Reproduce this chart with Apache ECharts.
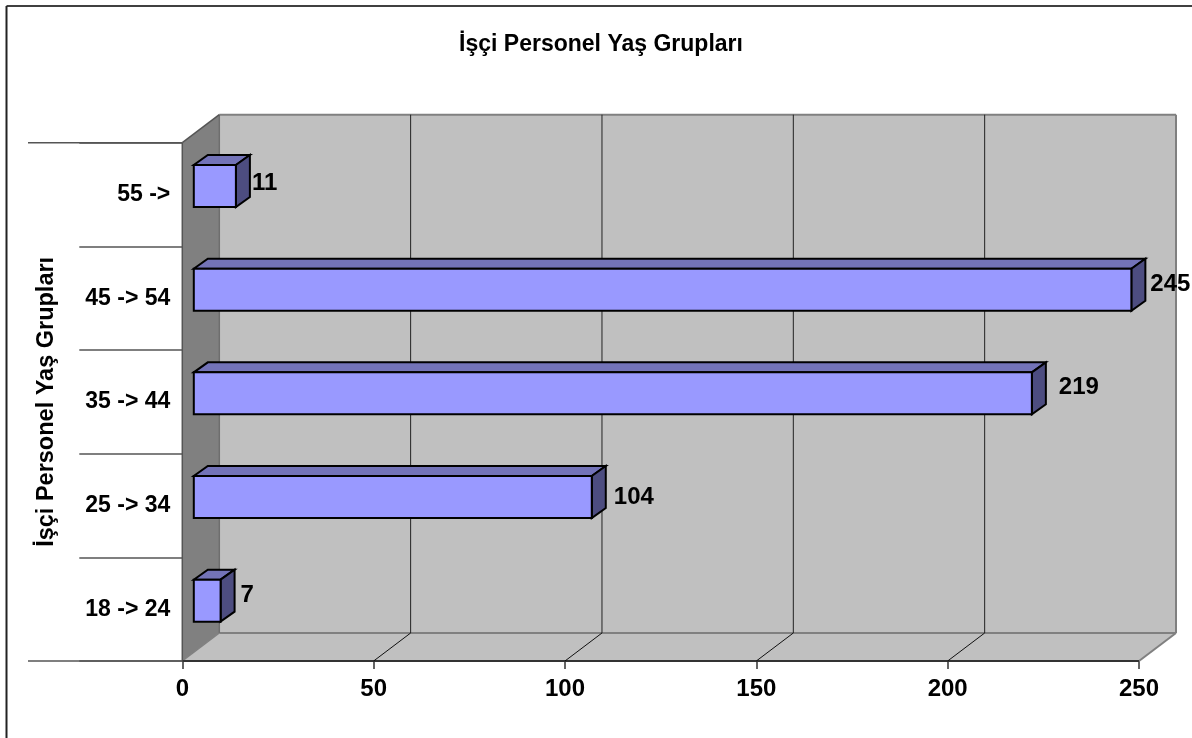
<!DOCTYPE html>
<html><head><meta charset="utf-8">
<style>html,body{margin:0;padding:0;background:#fff}#c{width:1192px;height:738px}</style>
<script src="https://cdn.jsdelivr.net/npm/echarts@6/dist/echarts.min.js"></script>
</head><body><div id="c"></div>
<script>
const categories = ['18 -> 24','25 -> 34','35 -> 44','45 -> 54','55 ->'];
const values = [7,104,219,245,11];
const xTicks = [0,50,100,150,200,250];
const titleText = 'İşçi Personel Yaş Grupları';

// drawing constants (not data)
const WALL = {dx:37, dy:-28};
const BAR = {x:11.5, y:-8.5, dx:14, dy:-10, h:42};
const LABEL_NUDGE = [[20,-5.5],[22,0],[27,-6],[19,-5],[16,-3]];
const font = 'Liberation Sans';
const chart = echarts.init(document.getElementById('c'), null, {renderer:'canvas'});

function poly(pts, fill, stroke, w){
  return {type:'polygon', shape:{points:pts}, style:{fill:fill, stroke:stroke||null, lineWidth:w||0, lineJoin:'miter'}};
}
function line(a,b,stroke,w){
  return {type:'line', shape:{x1:a[0],y1:a[1],x2:b[0],y2:b[1]}, style:{stroke:stroke, lineWidth:w}};
}
function renderFrame(params, api){
  const band = api.size([0,1])[1];
  const oy = api.coord([0,0])[1]+band/2, ty = api.coord([0,4])[1]-band/2;
  const x0 = api.coord([0,0])[0], x1 = api.coord([250,0])[0];
  const o = [x0,oy], t = [x0,ty], r = [x1,oy];
  const d = [WALL.dx, WALL.dy];
  const sh = p => [p[0]+d[0], p[1]+d[1]];
  const tr = [x1+d[0], ty+d[1]];
  const children = [
    poly([sh(t),tr,sh(r),sh(o)], '#c0c0c0'),
    poly([t,sh(t),sh(o),o], '#808080'),
    poly([o,r,sh(r),sh(o)], '#c0c0c0'),
    line(sh(t),tr,'#808080',2),
    line(tr,sh(r),'#808080',2),
    line(sh(r),sh(o),'#808080',2),
    line(sh(t),sh(o),'#6e6e6e',1.5),
    line(sh(r),r,'#808080',2),
    line(sh(o),o,'#808080',1.5),
    line(t,sh(t),'#555',1.5),
    line(t,o,'#555',1.5),
    line(o,r,'#333',2),
    line([28,ty],t,'#555',1.5),
    line([28,oy],o,'#555',1.5)
  ];
  xTicks.slice(1,-1).forEach(v=>{
    const p = [api.coord([v,0])[0], oy];
    children.push(line(p,sh(p),'#111',1));
    children.push(line(sh(p),[p[0]+d[0],ty+d[1]],'#222',1));
  });
  return {type:'group', children};
}
function renderBar(params, api){
  const idx = api.value(0), val = api.value(1);
  const a = api.coord([0,idx]), b = api.coord([val,idx]);
  const x0 = a[0]+BAR.x, x1 = b[0]+BAR.x, ym = a[1]+BAR.y;
  const y0 = ym-BAR.h/2, y1 = ym+BAR.h/2, dx = BAR.dx, dy = BAR.dy;
  const n = LABEL_NUDGE[idx];
  return {type:'group', children:[
    poly([[x0,y0],[x1,y0],[x1+dx,y0+dy],[x0+dx,y0+dy]], '#7373b8', '#000', 2),
    poly([[x1,y0],[x1+dx,y0+dy],[x1+dx,y1+dy],[x1,y1]], '#4d4d80', '#000', 2),
    poly([[x0,y0],[x1,y0],[x1,y1],[x0,y1]], '#9999ff', '#000', 2),
    {type:'text', style:{x:x1+n[0], y:ym+n[1], text:String(val), fill:'#000',
      font:'bold 24px "Liberation Sans"', textAlign:'left', textVerticalAlign:'middle'}}
  ]};
}
chart.setOption({
  animation:false,
  backgroundColor:'#fff',
  title:{text:titleText, left:601, textAlign:'center', top:33, padding:0,
    textStyle:{fontFamily:font, fontWeight:'bold', fontSize:23, color:'#000'}},
  graphic:[
    {type:'line', shape:{x1:6.5,y1:6,x2:1192,y2:6}, style:{stroke:'#000', lineWidth:1.5}, silent:true},
    {type:'line', shape:{x1:6.5,y1:6,x2:6.5,y2:738}, style:{stroke:'#222', lineWidth:2}, silent:true}
  ],
  grid:{left:182.3, top:142.7, width:956.7, height:518.3, containLabel:false},
  xAxis:{type:'value', min:0, max:250, interval:50,
    axisLine:{show:false}, splitLine:{show:false},
    axisTick:{show:true, length:8, lineStyle:{color:'#333', width:1.5}},
    axisLabel:{margin:16, fontFamily:font, fontWeight:'bold', fontSize:24, color:'#000', formatter:v=>String(v), hideOverlap:false}},
  yAxis:{type:'category', data:categories, boundaryGap:true,
    name:titleText, nameLocation:'middle', nameRotate:90, nameGap:124,
    nameTextStyle:{fontFamily:font, fontWeight:'bold', fontSize:23.5, color:'#000'},
    axisLine:{show:false}, splitLine:{show:false},
    axisTick:{show:true, length:103, alignWithLabel:false, lineStyle:{color:'#555', width:1.5}},
    axisLabel:{margin:12, fontFamily:font, fontWeight:'bold', fontSize:23, color:'#000'}},
  series:[
    {type:'custom', coordinateSystem:'cartesian2d', renderItem:renderFrame, data:[[0,0]], silent:true, z:1, clip:false, encode:{x:0,y:1}},
    {type:'custom', coordinateSystem:'cartesian2d', renderItem:renderBar, data:values.map((v,i)=>[i,v]), silent:true, z:2, clip:false, encode:{x:1,y:0}}
  ]
});
</script></body></html>
